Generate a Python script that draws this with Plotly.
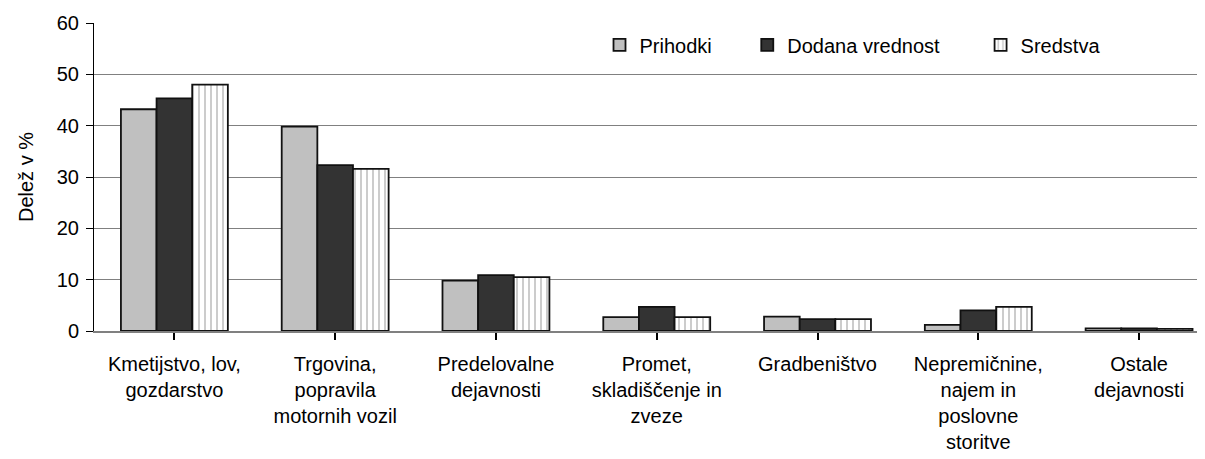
import plotly.graph_objects as go

categories = [
    "Kmetijstvo, lov,<br>gozdarstvo",
    "Trgovina,<br>popravila<br>motornih vozil",
    "Predelovalne<br>dejavnosti",
    "Promet,<br>skladiščenje in<br>zveze",
    "Gradbeništvo",
    "Nepremičnine,<br>najem in<br>poslovne<br>storitve",
    "Ostale<br>dejavnosti",
]
prihodki = [43.2, 39.8, 9.8, 2.7, 2.8, 1.2, 0.5]
dodana = [45.3, 32.3, 10.9, 4.7, 2.3, 4.0, 0.5]
sredstva = [48.0, 31.6, 10.5, 2.7, 2.3, 4.7, 0.4]
y_ticks = [0, 10, 20, 30, 40, 50, 60]

FONT = "Liberation Sans, Arial, sans-serif"
FS = 20
x_idx = list(range(len(categories)))

fig = go.Figure()
fig.add_trace(go.Bar(
    x=x_idx, y=prihodki, name="Prihodki", legend="legend",
    marker=dict(color="#C0C0C0", line=dict(color="#111111", width=1.8)),
))
fig.add_trace(go.Bar(
    x=x_idx, y=dodana, name="Dodana vrednost", legend="legend2",
    marker=dict(color="#333333", line=dict(color="#111111", width=1.8)),
))
fig.add_trace(go.Bar(
    x=x_idx, y=sredstva, name="Sredstva", legend="legend3",
    marker=dict(color="#FFFFFF", line=dict(color="#111111", width=1.8),
                pattern=dict(shape="|", size=6, solidity=0.25, fgcolor="#777777", bgcolor="#FFFFFF")),
))

leg = dict(orientation="h", yanchor="middle", xanchor="left", y=0.929,
           bgcolor="rgba(0,0,0,0)", font=dict(family=FONT, size=FS, color="#000"),
           borderwidth=0)

# page body has an 8px margin, so the figure is sized/offset to compensate
fig.update_layout(
    width=1197, height=451,
    margin=dict(l=86, r=0, t=15, b=128),
    paper_bgcolor="white", plot_bgcolor="white",
    font=dict(family=FONT, size=FS, color="#000"),
    barmode="group", bargap=0.335, bargroupgap=0,
    showlegend=True,
    legend=dict(leg, x=0.455),
    legend2=dict(leg, x=0.588),
    legend3=dict(leg, x=0.798),
    xaxis=dict(
        tickmode="array", tickvals=x_idx, ticktext=categories,
        range=[-0.5, 6.41], showgrid=False, zeroline=False,
        showline=True, linecolor="#808080", linewidth=2,
        ticks="outside", ticklen=7, tickcolor="#000", tickwidth=1.5,
        tickson="boundaries", ticklabelstandoff=7, automargin=False,
        tickfont=dict(family=FONT, size=FS, color="#000"),
    ),
    yaxis=dict(
        range=[0, 60], tickvals=y_ticks, showgrid=True, gridcolor="#808080", gridwidth=1,
        zeroline=False, showline=True, linecolor="#000", linewidth=1,
        ticks="outside", ticklen=7, tickcolor="#000", automargin=False,
        ticklabelstandoff=3,
        tickfont=dict(family=FONT, size=FS, color="#000"),
        title=dict(text="Delež v %", font=dict(family=FONT, size=FS, color="#000"), standoff=17),
    ),
)

fig.write_html("out.html")
